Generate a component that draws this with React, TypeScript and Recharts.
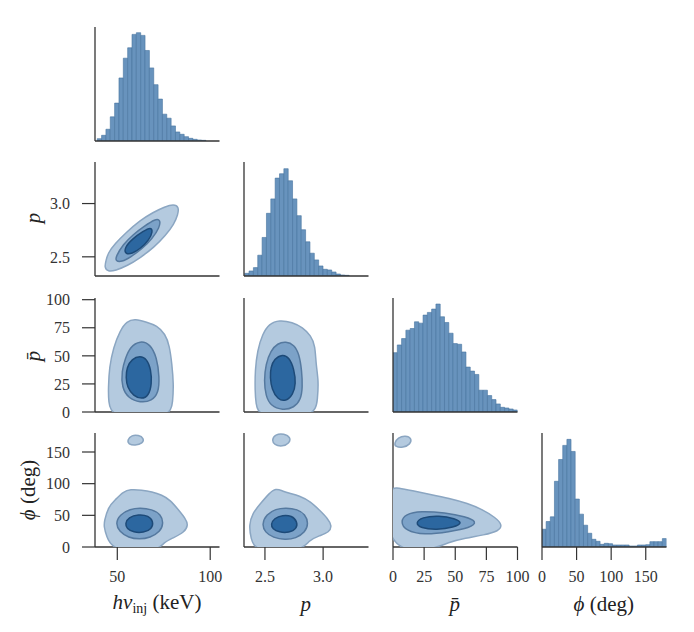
import { ScatterChart, Scatter, BarChart, Bar, XAxis, YAxis } from "recharts"

const FONT = '"Liberation Serif", "DejaVu Serif", serif'
const INK = "#333"

// axis ranges
const hnuDomain = [38, 105]
const pDomain = [2.32, 3.39]
const pbarDomainX = [0, 100]
const pbarDomainY = [0, 101.5]
const phiDomain = [0, 180]
const histTop = 340

// tick values
const hnuTicks = [50, 100]
const pTicks = [2.5, 3.0]
const pbarTicks = [0, 25, 50, 75, 100]
const phiTicks = [0, 50, 100, 150]

// histogram bins (start, width) and counts
const hnuBins = { start: 39.2, width: 2.34 }
const hnuCounts = [7, 17, 35, 72, 113, 188, 247, 278, 318, 323, 315, 270, 218, 168, 125, 80, 68, 45, 27, 20, 13, 8, 5, 3, 2]
const pBins = { start: 2.326, width: 0.0374 }
const pCounts = [8, 15, 25, 62, 115, 187, 230, 292, 305, 320, 284, 230, 180, 138, 102, 68, 48, 30, 20, 18, 12, 6, 3, 2]
const pbarBins = { start: 0, width: 100 / 29 }
const pbarCounts = [177, 200, 219, 244, 249, 269, 265, 289, 297, 307, 322, 284, 267, 235, 204, 202, 179, 134, 122, 112, 65, 65, 49, 37, 24, 14, 12, 9, 6]
const phiBins = { start: 0, width: 6 }
const phiCounts = [53, 76, 90, 196, 261, 303, 321, 285, 143, 98, 65, 41, 23, 17, 8, 11, 10, 6, 6, 6, 6, 3, 3, 6, 6, 7, 16, 16, 16, 25]

// kde contour outlines [x, y] in data units
const pHnuOuter = [[44.0, 2.47], [45.0, 2.535], [48.6, 2.62], [54.9, 2.73], [62.1, 2.84], [69.3, 2.918], [75.6, 2.97], [80.3, 2.995], [83.2, 2.97], [82.6, 2.893], [80.6, 2.81], [76.0, 2.7], [69.7, 2.588], [62.5, 2.493], [55.3, 2.415], [49.0, 2.372], [45.0, 2.36], [43.0, 2.4]]
const pHnuMid = [[49.3, 2.505], [53.1, 2.615], [58.5, 2.71], [64.8, 2.79], [70.4, 2.855], [73.2, 2.85], [72.8, 2.775], [68.8, 2.67], [63.4, 2.575], [57.1, 2.497], [52.4, 2.452], [49.0, 2.46]]
const pHnuInner = [[53.8, 2.585], [58.5, 2.675], [64.0, 2.74], [68.0, 2.78], [69.2, 2.74], [67.0, 2.655], [62.5, 2.578], [57.9, 2.528], [54.3, 2.525]]

const pbarHnuOuter = [[45.2, 21.8], [45.7, 39.7], [47.9, 57.5], [51.5, 72.5], [55.1, 80.8], [59.6, 82.9], [65.9, 79.9], [71.3, 76.9], [75.8, 69.5], [78.1, 59.0], [79.4, 42.7], [80.3, 24.8], [79.9, 9.8], [78.5, -6], [47.0, -6], [45.2, 9.8]]
const pbarHnuMid = [[52.4, 36.7], [54.2, 47.2], [56.9, 58.2], [62.3, 63.6], [67.7, 60.6], [71.3, 48.6], [72.7, 30.7], [72.2, 17.3], [68.6, 9.8], [62.3, 8.3], [56.0, 12.2], [52.4, 21.8]]
const pbarHnuInner = [[54.6, 30.7], [55.1, 39.7], [57.8, 47.2], [62.3, 50.1], [65.9, 47.2], [68.1, 38.2], [68.6, 24.8], [66.8, 14.3], [63.2, 11.4], [58.7, 14.3], [55.4, 21.8]]

const pbarPOuter = [[2.415, 18.8], [2.415, 36.7], [2.435, 54.6], [2.479, 69.5], [2.536, 78.5], [2.622, 82.0], [2.737, 79.9], [2.823, 75.4], [2.895, 68.0], [2.932, 59.0], [2.938, 42.7], [2.961, 27.7], [2.953, 12.8], [2.932, -6], [2.449, -6], [2.421, 8.3]]
const pbarPMid = [[2.492, 27.7], [2.507, 42.7], [2.55, 54.6], [2.608, 61.1], [2.68, 62.9], [2.751, 59.9], [2.794, 51.6], [2.817, 36.7], [2.823, 21.8], [2.809, 11.4], [2.751, 3.8], [2.651, 1.5], [2.55, 5.4], [2.507, 14.3]]
const pbarPInner = [[2.544, 30.7], [2.55, 39.7], [2.579, 47.2], [2.651, 51.6], [2.708, 48.6], [2.751, 38.2], [2.766, 24.8], [2.742, 15.8], [2.68, 9.2], [2.608, 11.4], [2.559, 20.3]]

const phiHnuOuter = [[42.9, 40.0], [45.2, 63.7], [48.8, 74.2], [53.3, 87.4], [56.9, 91.1], [63.2, 90.0], [68.6, 87.4], [74.0, 82.1], [78.5, 74.2], [83.0, 58.4], [86.6, 45.3], [88.3, 34.7], [86.0, 23.2], [80.3, 14.7], [74.9, 7.4], [71.3, -8], [47.9, -8], [43.9, 18.9], [42.9, 32.1]]
const phiHnuIsland = [[55.4, 169.0], [57.8, 176.8], [61.4, 176.8], [64.4, 171.6], [63.7, 163.7], [59.6, 160.0], [56.0, 162.2]]
const phiHnuMid = [[49.0, 37.4], [51.5, 51.6], [56.9, 60.0], [62.3, 62.1], [68.6, 59.5], [73.5, 51.6], [74.9, 37.4], [73.1, 24.2], [67.7, 14.7], [61.9, 12.2], [56.0, 14.7], [51.1, 24.2]]
const phiHnuInner = [[54.2, 37.4], [56.0, 46.9], [61.4, 51.6], [66.8, 49.5], [69.5, 40.0], [68.6, 28.4], [64.1, 22.6], [58.7, 23.2], [55.1, 28.4]]

const phiPOuter = [[2.363, 34.7], [2.392, 53.2], [2.464, 69.0], [2.536, 84.8], [2.593, 92.7], [2.651, 88.4], [2.708, 84.8], [2.794, 81.0], [2.895, 71.5], [2.967, 58.4], [3.039, 45.3], [3.076, 33.6], [3.053, 23.2], [2.967, 17.8], [2.88, 11.1], [2.809, -8], [2.421, -8], [2.378, 13.7]]
const phiPIsland = [[2.559, 169.0], [2.587, 178], [2.665, 179.5], [2.723, 172.6], [2.708, 163.7], [2.651, 158.4], [2.579, 161.1]]
const phiPMid = [[2.473, 35.8], [2.513, 51.6], [2.593, 60.0], [2.68, 62.1], [2.78, 59.5], [2.846, 51.6], [2.875, 37.4], [2.846, 23.2], [2.766, 13.7], [2.673, 11.1], [2.57, 14.7], [2.501, 23.2]]
const phiPInner = [[2.55, 35.8], [2.579, 45.3], [2.651, 50.5], [2.731, 49.5], [2.78, 40.0], [2.772, 28.4], [2.708, 22.6], [2.622, 23.2], [2.565, 28.4]]

const phiPbarOuter = [[-5, 96], [5, 93], [15, 89], [30, 83], [45, 77], [60, 69], [72, 59], [82, 47], [88, 35], [85, 25], [73, 19], [58, 14], [45, 8], [30, -6], [-5, -6]]
const phiPbarIsland = [[1, 164], [4, 173], [10, 176], [15, 172], [14, 162], [8, 157], [2, 158]]
const phiPbarMid = [[6, 40], [10, 52], [22, 57], [42, 54], [58, 48], [68, 40], [62, 30], [45, 24], [25, 19], [10, 26]]
const phiPbarInner = [[18, 38], [23, 47], [37, 50], [50, 45], [56, 38], [49, 31], [35, 27], [22, 30]]

// layout
const colX = [95, 243.5, 392.5, 541.5]
const rowY = [27, 162, 297.5, 433]
const PW = 124.5
const PH = 114
const YW = 70
const XH = 50
const PT = 14
const PR = 16

const outerStyle = { fill: "#b4cadf", stroke: "#8ba6c2" }
const midStyle = { fill: "#7ca2c8", stroke: "#55799f" }
const innerStyle = { fill: "#2c67a0", stroke: "#1d4a78" }

const tickStyle = { fill: INK, fontSize: 16, fontFamily: FONT }
const spine = { stroke: INK, strokeWidth: 1.3 }
const tickMark = { stroke: INK, strokeWidth: 1.2 }
const fmtP = (v: number) => v.toFixed(1)

const noDot = () => null

function axisX(domain: number[], ticks?: number[], fmt?: (v: number) => string, key = "x") {
  return (
    <XAxis
      type="number"
      dataKey={key}
      domain={domain}
      allowDataOverflow
      ticks={ticks}
      interval={0}
      tick={ticks ? tickStyle : false}
      tickLine={ticks ? tickMark : false}
      tickSize={13}
      tickMargin={11}
      tickFormatter={fmt}
      axisLine={spine}
      height={XH}
    />
  )
}

function axisY(domain: number[], ticks?: number[], fmt?: (v: number) => string, key = "y") {
  return (
    <YAxis
      type="number"
      dataKey={key}
      domain={domain}
      allowDataOverflow
      ticks={ticks}
      interval={0}
      tick={ticks ? tickStyle : false}
      tickLine={ticks ? tickMark : false}
      tickSize={13}
      tickMargin={12}
      tickFormatter={fmt}
      axisLine={spine}
      width={YW}
    />
  )
}

function place(col: number, row: number) {
  return { position: "absolute" as const, left: colX[col] - YW, top: rowY[row] - PT }
}

type Layer = { pts: number[][]; style: { fill: string; stroke: string } }

function KdePanel(props: {
  col: number
  row: number
  xDomain: number[]
  yDomain: number[]
  xTicks?: number[]
  yTicks?: number[]
  xFmt?: (v: number) => string
  yFmt?: (v: number) => string
  layers: Layer[]
}) {
  const { col, row, xDomain, yDomain, xTicks, yTicks, xFmt, yFmt, layers } = props
  return (
    <div style={place(col, row)}>
      <ScatterChart width={YW + PW + PR} height={PT + PH + XH} margin={{ top: PT, right: PR, left: 0, bottom: 0 }}>
        {axisX(xDomain, xTicks, xFmt)}
        {axisY(yDomain, yTicks, yFmt)}
        {layers.map((l, i) => (
          <Scatter
            key={i}
            data={l.pts.map(([x, y]) => ({ x, y }))}
            fill={l.style.fill}
            line={{ fill: l.style.fill, stroke: l.style.stroke, strokeWidth: 1.5 }}
            lineType="joint"
            lineJointType="basisClosed"
            shape={noDot}
            isAnimationActive={false}
          />
        ))}
      </ScatterChart>
    </div>
  )
}

function HistPanel(props: {
  col: number
  row: number
  domain: number[]
  bins: { start: number; width: number }
  counts: number[]
  ticks?: number[]
}) {
  const { col, row, domain, bins, counts, ticks } = props
  const rows = counts.map((c, i) => ({ mid: bins.start + (i + 0.5) * bins.width, count: c }))
  const barPx = (bins.width / (domain[1] - domain[0])) * PW - 0.02
  return (
    <div style={place(col, row)}>
      <BarChart
        width={YW + PW + PR}
        height={PT + PH + XH}
        data={rows}
        margin={{ top: PT, right: PR, left: 0, bottom: 0 }}
        barGap={0}
        barCategoryGap={0}
      >
        {axisX(domain, ticks, undefined, "mid")}
        {axisY([0, histTop], undefined, undefined, "count")}
        <Bar dataKey="count" fill="#6893bd" stroke="#4673a0" strokeWidth={0.6} barSize={barPx} isAnimationActive={false} />
      </BarChart>
    </div>
  )
}

const labelBase = {
  position: "absolute" as const,
  fontFamily: FONT,
  fontSize: 21,
  color: "#222",
  whiteSpace: "nowrap" as const,
  lineHeight: 1,
}

function XLabel({ x, children }: { x: number; children: any }) {
  return <div style={{ ...labelBase, left: x, top: 604, transform: "translate(-50%, -50%)" }}>{children}</div>
}

function YLabel({ y, x = 33, children }: { y: number; x?: number; children: any }) {
  return (
    <div style={{ ...labelBase, left: x, top: y, transform: "translate(-50%, -50%) rotate(-90deg)" }}>{children}</div>
  )
}

export default function App() {
  return (
    <div style={{ position: "absolute", left: 0, top: 0, width: 694, height: 632, background: "#fff", fontFamily: FONT }}>
      {/* diagonal */}
      <HistPanel col={0} row={0} domain={hnuDomain} bins={hnuBins} counts={hnuCounts} />
      <HistPanel col={1} row={1} domain={pDomain} bins={pBins} counts={pCounts} />
      <HistPanel col={2} row={2} domain={pbarDomainX} bins={pbarBins} counts={pbarCounts} />
      <HistPanel col={3} row={3} domain={phiDomain} bins={phiBins} counts={phiCounts} ticks={phiTicks} />

      {/* lower triangle */}
      <KdePanel col={0} row={1} xDomain={hnuDomain} yDomain={pDomain} yTicks={pTicks} yFmt={fmtP}
        layers={[{ pts: pHnuOuter, style: outerStyle }, { pts: pHnuMid, style: midStyle }, { pts: pHnuInner, style: innerStyle }]} />
      <KdePanel col={0} row={2} xDomain={hnuDomain} yDomain={pbarDomainY} yTicks={pbarTicks}
        layers={[{ pts: pbarHnuOuter, style: outerStyle }, { pts: pbarHnuMid, style: midStyle }, { pts: pbarHnuInner, style: innerStyle }]} />
      <KdePanel col={1} row={2} xDomain={pDomain} yDomain={pbarDomainY}
        layers={[{ pts: pbarPOuter, style: outerStyle }, { pts: pbarPMid, style: midStyle }, { pts: pbarPInner, style: innerStyle }]} />
      <KdePanel col={0} row={3} xDomain={hnuDomain} yDomain={phiDomain} xTicks={hnuTicks} yTicks={phiTicks}
        layers={[{ pts: phiHnuOuter, style: outerStyle }, { pts: phiHnuIsland, style: outerStyle }, { pts: phiHnuMid, style: midStyle }, { pts: phiHnuInner, style: innerStyle }]} />
      <KdePanel col={1} row={3} xDomain={pDomain} yDomain={phiDomain} xTicks={pTicks} xFmt={fmtP}
        layers={[{ pts: phiPOuter, style: outerStyle }, { pts: phiPIsland, style: outerStyle }, { pts: phiPMid, style: midStyle }, { pts: phiPInner, style: innerStyle }]} />
      <KdePanel col={2} row={3} xDomain={pbarDomainX} yDomain={phiDomain} xTicks={pbarTicks}
        layers={[{ pts: phiPbarOuter, style: outerStyle }, { pts: phiPbarIsland, style: outerStyle }, { pts: phiPbarMid, style: midStyle }, { pts: phiPbarInner, style: innerStyle }]} />

      {/* axis labels */}
      <XLabel x={157}>
        <i>hν</i>
        <sub style={{ fontSize: 14, verticalAlign: "-0.25em" }}>inj</sub> (keV)
      </XLabel>
      <XLabel x={305.8}><i>p</i></XLabel>
      <XLabel x={454.8}><i>p&#x0304;</i></XLabel>
      <XLabel x={603.8}><i>ϕ</i> (deg)</XLabel>

      <YLabel y={218}><i>p</i></YLabel>
      <YLabel y={356}><i>p&#x0304;</i></YLabel>
      <YLabel y={490} x={28}><i>ϕ</i> (deg)</YLabel>
    </div>
  )
}
